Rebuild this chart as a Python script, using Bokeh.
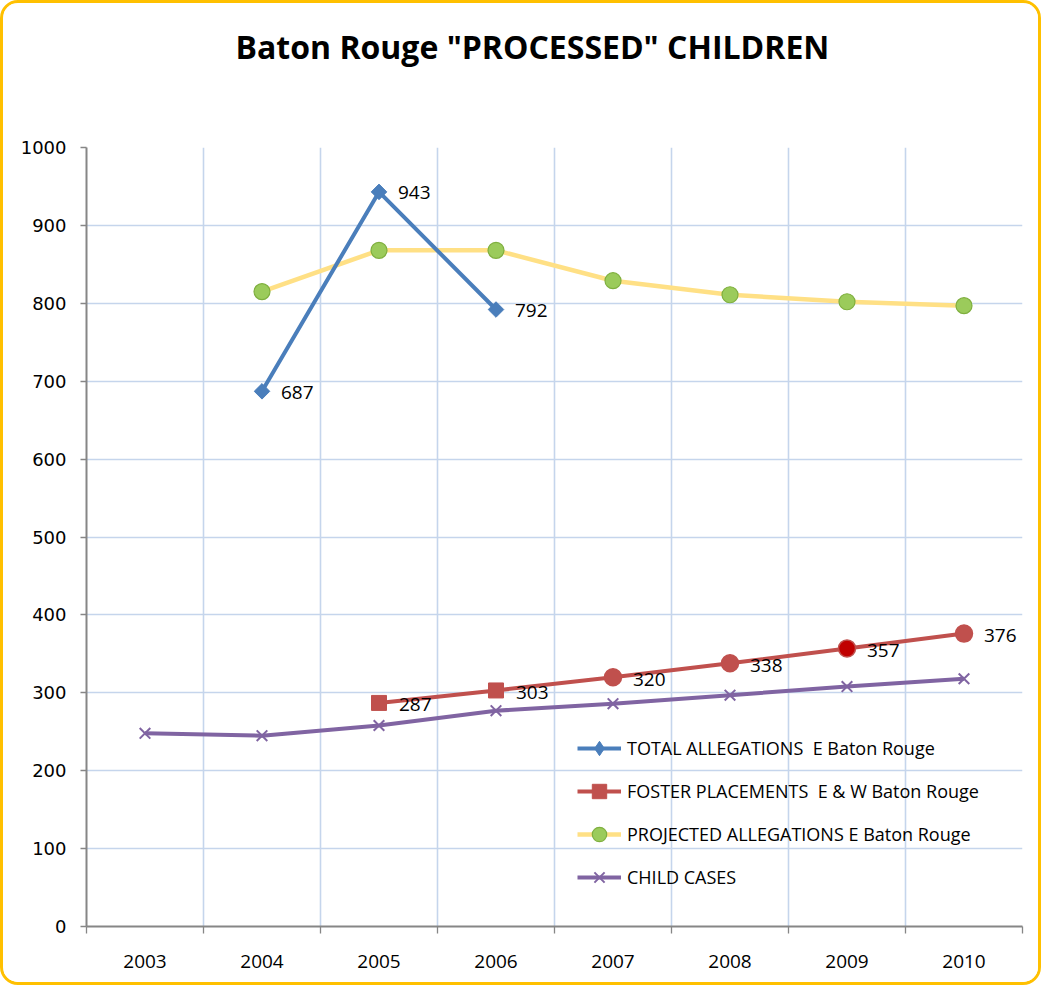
import math
from bokeh.plotting import figure
from bokeh.models import FixedTicker, Legend, LegendItem, Range1d, ColumnDataSource, Title
from bokeh.core.properties import value
from bokeh.embed import file_html
from bokeh.resources import INLINE

years = [2003, 2004, 2005, 2006, 2007, 2008, 2009, 2010]
year_labels = ["2003", "2004", "2005", "2006", "2007", "2008", "2009", "2010"]

total_years = [2004, 2005, 2006]
total_vals = [687, 943, 792]

foster_years = [2005, 2006, 2007, 2008, 2009, 2010]
foster_vals = [287, 303, 320, 338, 357, 376]

proj_years = [2004, 2005, 2006, 2007, 2008, 2009, 2010]
proj_vals = [815, 868, 868, 829, 811, 802, 797]

child_years = [2003, 2004, 2005, 2006, 2007, 2008, 2009, 2010]
child_vals = [248, 245, 258, 277, 286, 297, 308, 318]

y_ticks = [0, 100, 200, 300, 400, 500, 600, 700, 800, 900, 1000]

BLUE = "#4A7EBB"
RED = "#C0504D"
YELLOW = "#FFE085"
GREEN = "#9BCB5B"
GREEN_DARK = "#7FAF3F"
PURPLE = "#8064A2"
GRID = "#C5D5EC"
AXIS = "#868686"

p = figure(width=1041, height=985, output_backend="svg", toolbar_location=None,
           x_range=Range1d(years[0] - 0.5, years[-1] + 0.5), y_range=Range1d(0, 1000),
           min_border_left=83, min_border_right=22, min_border_top=144, min_border_bottom=62)
p.styles = {"border": "3px solid #FFC000", "border-radius": "18px", "overflow": "hidden"}
p.outline_line_color = None
p.background_fill_color = "white"
p.border_fill_color = "white"

p.title.text = 'Baton Rouge "PROCESSED" CHILDREN'
p.title.text_font = "Open Sans"
p.title.text_font_style = "bold"
p.title.text_font_size = "32px"
p.title.text_color = "black"
p.title.align = "left"
p.title.offset = 149
# empty spacer between the title and the plot area
p.add_layout(Title(text=" ", text_font_size="56px"), "above")

# grids
boundaries = [y - 0.5 for y in years] + [years[-1] + 0.5]
p.xgrid.ticker = FixedTicker(ticks=boundaries)
p.xgrid.grid_line_color = GRID
p.xgrid.grid_line_width = 1.6
p.ygrid.ticker = FixedTicker(ticks=y_ticks)
p.ygrid.grid_line_color = GRID
p.ygrid.grid_line_width = 1.6

# x axis
xa = p.xaxis[0]
xa.ticker = FixedTicker(ticks=years, minor_ticks=boundaries)
xa.major_label_overrides = {y: l for y, l in zip(years, year_labels)}
xa.major_tick_out = 0
xa.major_tick_in = 0
xa.minor_tick_out = 7
xa.minor_tick_in = 0
xa.minor_tick_line_color = AXIS
xa.minor_tick_line_width = 1.3
xa.axis_line_color = AXIS
xa.axis_line_width = 2
xa.major_label_text_font = "Open Sans"
xa.major_label_text_font_size = "19px"
xa.major_label_text_color = "black"
xa.major_label_standoff = 21

ya = p.yaxis[0]
ya.ticker = FixedTicker(ticks=y_ticks)
ya.major_tick_out = 6
ya.major_tick_in = 0
ya.minor_tick_out = 0
ya.minor_tick_in = 0
ya.major_tick_line_color = AXIS
ya.major_tick_line_width = 1.3
ya.axis_line_color = AXIS
ya.axis_line_width = 2
ya.major_label_text_font = "DejaVu Sans"
ya.major_label_text_font_size = "18px"
ya.major_label_text_color = "black"
ya.major_label_standoff = 14

# series
proj_line = p.line(proj_years, proj_vals, line_color=YELLOW, line_width=4.5)
proj_pts = p.scatter(proj_years, proj_vals, marker="circle", size=16,
                     fill_color=GREEN, line_color=GREEN_DARK, line_width=1.2)

child_line = p.line(child_years, child_vals, line_color=PURPLE, line_width=4)
child_pts = p.scatter(child_years, child_vals, marker="x", size=15,
                      line_color=PURPLE, line_width=2)

total_line = p.line(total_years, total_vals, line_color=BLUE, line_width=4)
total_pts = p.scatter(total_years, total_vals, marker="square", angle=math.pi / 4, size=11,
                      fill_color=BLUE, line_color=BLUE)
# legend swatch for the diamond marker (size 0 on the plot; legend sizes it itself)
total_key = p.scatter(total_years, total_vals, marker="diamond", size=0,
                      fill_color=BLUE, line_color=BLUE)

foster_line = p.line(foster_years, foster_vals, line_color=RED, line_width=4)
foster_sq = p.scatter(foster_years[:2], foster_vals[:2], marker="square", size=15,
                      fill_color=RED, line_color=RED)
circle_colors = [RED, RED, "#C00000", RED]
foster_ci = p.scatter(foster_years[2:], foster_vals[2:], marker="circle", size=17,
                      fill_color=circle_colors, line_color=RED, line_width=1.5)

# data labels
tsrc = ColumnDataSource(dict(x=total_years, y=total_vals, t=[str(v) for v in total_vals]))
p.text("x", "y", text="t", source=tsrc, x_offset=19, y_offset=1,
       text_baseline="middle", text_align="left",
       text_font=value("Open Sans"), text_font_size="19px", text_color="black")
fsrc = ColumnDataSource(dict(x=foster_years, y=foster_vals, t=[str(v) for v in foster_vals]))
p.text("x", "y", text="t", source=fsrc, x_offset=20, y_offset=2,
       text_baseline="middle", text_align="left",
       text_font=value("Open Sans"), text_font_size="19px", text_color="black")

legend = Legend(items=[
    LegendItem(label="TOTAL ALLEGATIONS  E Baton Rouge", renderers=[total_line, total_key]),
    LegendItem(label="FOSTER PLACEMENTS  E & W Baton Rouge", renderers=[foster_line, foster_sq]),
    LegendItem(label="PROJECTED ALLEGATIONS E Baton Rouge", renderers=[proj_line, proj_pts]),
    LegendItem(label="CHILD CASES", renderers=[child_line, child_pts]),
], location=(491, 31))
legend.border_line_color = None
legend.background_fill_alpha = 0
legend.padding = 0
legend.margin = 0
legend.glyph_width = 44
legend.glyph_height = 36
legend.label_height = 36
legend.spacing = 7
legend.label_standoff = 6
legend.label_text_font = "Open Sans"
legend.label_text_font_size = "18px"
legend.label_text_color = "black"
p.add_layout(legend, "center")

open("out.html", "w").write(file_html(p, INLINE))
